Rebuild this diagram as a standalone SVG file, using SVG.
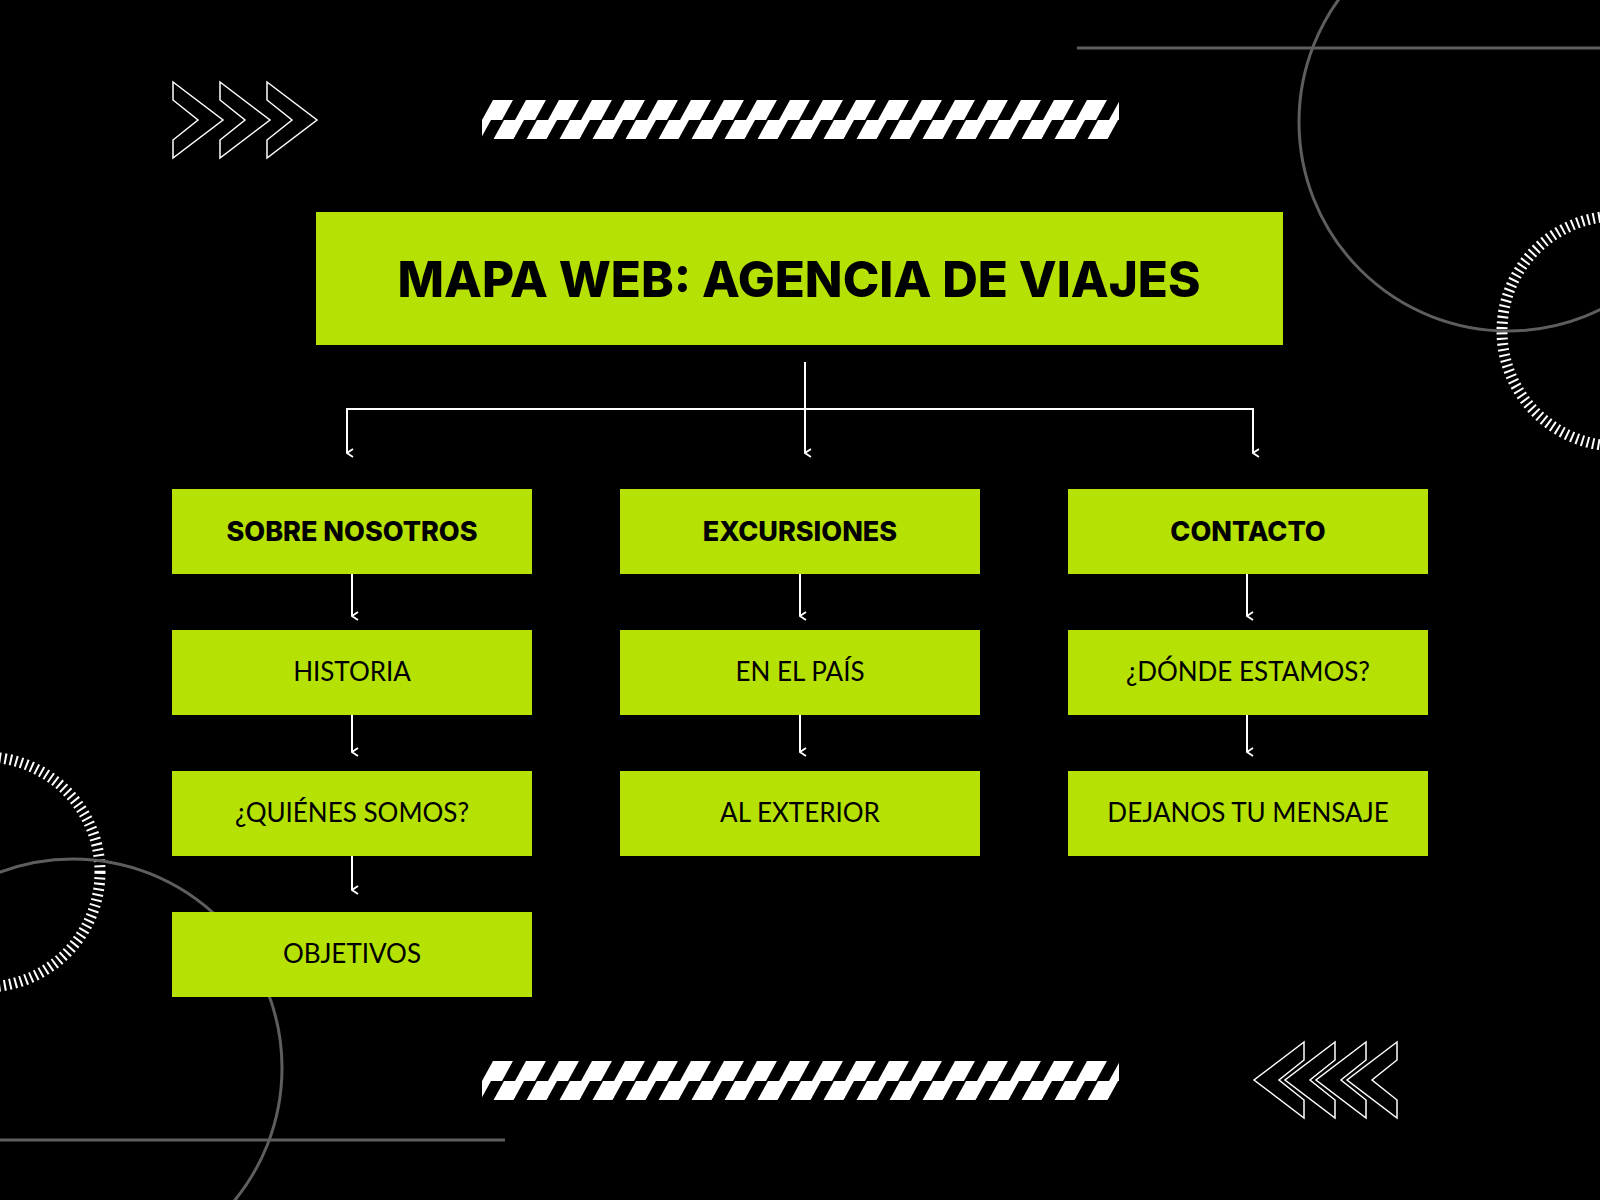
<svg xmlns="http://www.w3.org/2000/svg" width="1600" height="1200" viewBox="0 0 1600 1200">
<defs>
<style>
.box{fill:#b5e105}
.h{font-family:"Inter","Liberation Sans",sans-serif;font-weight:800;font-size:27px;fill:#000;text-anchor:middle}
.s{font-family:"Lato","Liberation Sans",sans-serif;font-size:26px;fill:#000;text-anchor:middle}
.c{stroke:#fff;stroke-width:2;fill:none}
.g{stroke:#5e5e5e;stroke-width:3;fill:none}
.ch{stroke:#fff;stroke-width:1.5;fill:none}
</style>
<marker id="ah" viewBox="0 0 10 10" refX="5" refY="9" markerWidth="10" markerHeight="10" markerUnits="userSpaceOnUse" orient="auto-start-reverse">
<path d="M1 3 L5 9 L9 3" fill="none" stroke="#fff" stroke-width="1.8"/>
</marker>
<pattern id="st" x="482" y="0" width="33" height="40" patternUnits="userSpaceOnUse">
<polygon points="0,40 20,40 42,0 22,0" fill="#fff"/>
<polygon points="-33,40 -13,40 9,0 -11,0" fill="#fff"/>
</pattern>
<polygon id="chev" points="0,0 50,38 0,76 0,58 25,38 0,18" />
</defs>
<rect width="1600" height="1200" fill="#000"/>
<g id="decor">
<line class="g" x1="1077" y1="48" x2="1600" y2="48"/>
<circle class="g" cx="1508" cy="122" r="209"/>
<circle cx="1617" cy="331" r="115" fill="none" stroke="#fff" stroke-width="11" stroke-dasharray="2 3.5"/>
<circle cx="-15" cy="872" r="115" fill="none" stroke="#fff" stroke-width="11" stroke-dasharray="2 3.5"/>
<circle class="g" cx="73" cy="1068" r="209"/>
<line class="g" x1="0" y1="1140" x2="505" y2="1140"/>
<rect x="482" y="100" width="637" height="39" fill="url(#st)"/>
<rect x="482" y="1061" width="637" height="39" fill="url(#st)" transform="translate(0,21)" style="display:none"/>
<g transform="translate(0,961)"><rect x="482" y="100" width="637" height="39" fill="url(#st)"/></g>
<g class="ch">
<use href="#chev" x="173" y="82"/><use href="#chev" x="220" y="82"/><use href="#chev" x="267" y="82"/>
</g>
<g class="ch" transform="translate(1397,1042) scale(-1,1)">
<use href="#chev" x="0" y="0"/><use href="#chev" x="31" y="0"/><use href="#chev" x="62" y="0"/><use href="#chev" x="93" y="0"/>
</g>
</g>
<g id="title"><rect class="box" x="316" y="212" width="967" height="133"/>
<text x="799" y="297" font-family="Inter, 'Liberation Sans', sans-serif" font-weight="800" font-size="50" text-anchor="middle" textLength="803" lengthAdjust="spacingAndGlyphs">MAPA WEB: AGENCIA DE VIAJES</text></g>
<g id="connectors">
<line class="c" x1="805" y1="362" x2="805" y2="453" marker-end="url(#ah)"/>
<polyline class="c" points="347,453 347,409 1253,409 1253,453" marker-start="url(#ah)" marker-end="url(#ah)"/>
<line class="c" x1="352" y1="574" x2="352" y2="616" marker-end="url(#ah)"/>
<line class="c" x1="352" y1="714" x2="352" y2="752" marker-end="url(#ah)"/>
<line class="c" x1="352" y1="855" x2="352" y2="890" marker-end="url(#ah)"/>
<line class="c" x1="800" y1="574" x2="800" y2="616" marker-end="url(#ah)"/>
<line class="c" x1="800" y1="714" x2="800" y2="752" marker-end="url(#ah)"/>
<line class="c" x1="1247" y1="574" x2="1247" y2="616" marker-end="url(#ah)"/>
<line class="c" x1="1247" y1="714" x2="1247" y2="752" marker-end="url(#ah)"/>
</g>
<g id="sobre"><rect class="box" x="172" y="489" width="360" height="85"/><text class="h" x="352" y="541">SOBRE NOSOTROS</text></g>
<g id="historia"><rect class="box" x="172" y="630" width="360" height="85"/><text class="s" x="352" y="681">HISTORIA</text></g>
<g id="quienes"><rect class="box" x="172" y="771" width="360" height="85"/><text class="s" x="352" y="822">¿QUIÉNES SOMOS?</text></g>
<g id="objetivos"><rect class="box" x="172" y="912" width="360" height="85"/><text class="s" x="352" y="963">OBJETIVOS</text></g>
<g id="excursiones"><rect class="box" x="620" y="489" width="360" height="85"/><text class="h" x="800" y="541">EXCURSIONES</text></g>
<g id="pais"><rect class="box" x="620" y="630" width="360" height="85"/><text class="s" x="800" y="681">EN EL PAÍS</text></g>
<g id="exterior"><rect class="box" x="620" y="771" width="360" height="85"/><text class="s" x="800" y="822">AL EXTERIOR</text></g>
<g id="contacto"><rect class="box" x="1068" y="489" width="360" height="85"/><text class="h" x="1248" y="541">CONTACTO</text></g>
<g id="donde"><rect class="box" x="1068" y="630" width="360" height="85"/><text class="s" x="1248" y="681">¿DÓNDE ESTAMOS?</text></g>
<g id="mensaje"><rect class="box" x="1068" y="771" width="360" height="85"/><text class="s" x="1248" y="822">DEJANOS TU MENSAJE</text></g>
</svg>
